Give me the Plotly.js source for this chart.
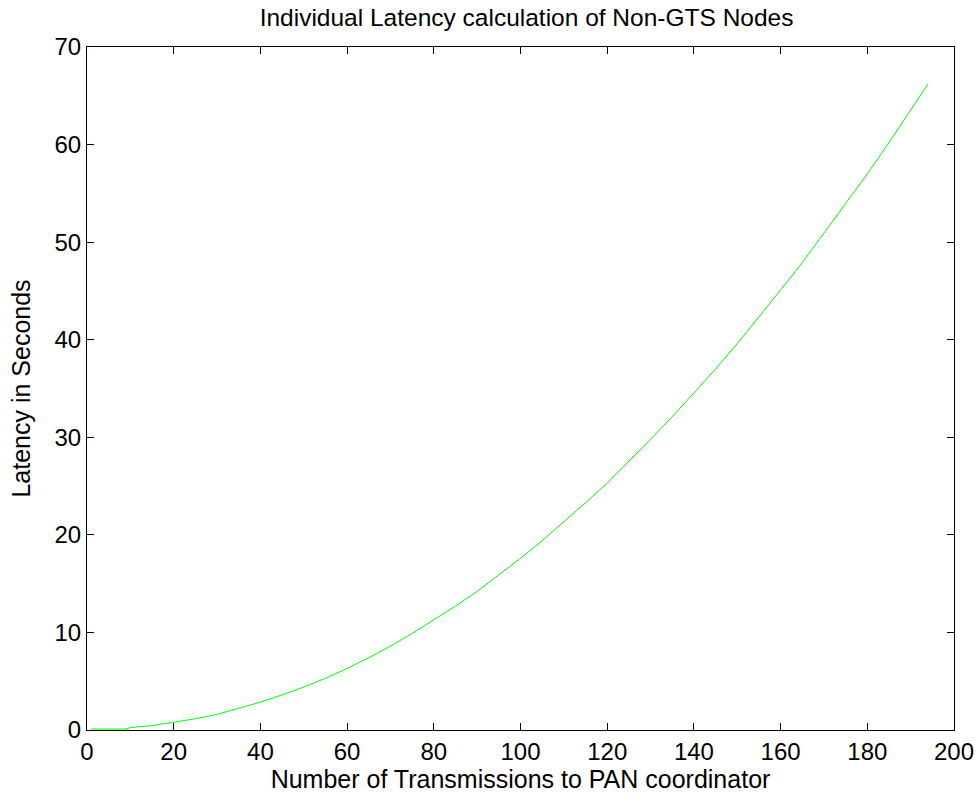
<!DOCTYPE html>
<html>
<head>
<meta charset="utf-8">
<script src="https://cdn.plot.ly/plotly-3.0.1.min.js"></script>
<style>html,body{margin:0;padding:0;background:#fff;}#chart{width:980px;height:802px;}</style>
</head>
<body>
<div id="chart"></div>
<script>
var transmissions = [1, 5, 9, 10, 15, 20, 25, 30, 35, 40, 45, 50, 55, 60, 65, 70, 75, 80, 85, 90, 95, 100, 105, 110, 115, 120, 125, 130, 135, 140, 145, 150, 155, 160, 165, 170, 175, 180, 185, 190, 194];
var latency = [0.1, 0.1, 0.1, 0.25, 0.45, 0.8, 1.15, 1.6, 2.2, 2.85, 3.6, 4.4, 5.3, 6.3, 7.4, 8.6, 9.9, 11.3, 12.7, 14.2, 15.9, 17.6, 19.4, 21.3, 23.3, 25.3, 27.5, 29.8, 32.1, 34.5, 37.0, 39.6, 42.3, 45.1, 47.9, 50.9, 53.9, 57.0, 60.2, 63.5, 66.2];
var titleText = "Individual Latency calculation of Non-GTS Nodes";
var xTitle = "Number of Transmissions to PAN coordinator";
var yTitle = "Latency in Seconds";

var font = "Arial, 'Liberation Sans', Helvetica, sans-serif";
var trace = {
  x: transmissions, y: latency, type: 'scatter', mode: 'lines',
  line: {color: '#00ff00', width: 1}
};
var axisCommon = {
  showline: true, linecolor: '#000', linewidth: 1, mirror: 'ticks',
  ticks: 'inside', ticklen: 7, tickcolor: '#000', tickwidth: 1,
  showgrid: false, zeroline: false,
  tickfont: {family: font, size: 24, color: '#000'}
};
var layout = {
  width: 980, height: 802,
  paper_bgcolor: '#fff', plot_bgcolor: '#fff',
  margin: {l: 87, r: 26, t: 47, b: 72},
  showlegend: false,
  title: {text: titleText, font: {family: font, size: 24.5, color: '#000'},
          xref: 'paper', x: 0.507, xanchor: 'center', yref: 'container', y: 0.989, yanchor: 'top'},
  xaxis: Object.assign({}, axisCommon, {
    range: [0, 200], dtick: 20, tick0: 0,
    title: {text: xTitle, font: {family: font, size: 25, color: '#000'}, standoff: 5}
  }),
  yaxis: Object.assign({}, axisCommon, {
    range: [0, 70], dtick: 10, tick0: 0,
    title: {text: yTitle, font: {family: font, size: 25, color: '#000'}, standoff: 16}
  })
};
Plotly.newPlot('chart', [trace], layout, {displayModeBar: false, staticPlot: true});
</script>
</body>
</html>
